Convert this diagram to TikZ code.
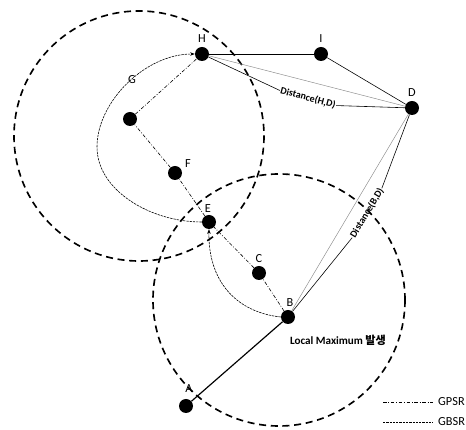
\documentclass[tikz,border=0pt]{standalone}
\usepackage{fontspec}
\setmainfont{Carlito}
\newfontfamily\krfont{Noto Sans CJK KR}
\usetikzlibrary{arrows.meta}
\begin{document}
\begin{tikzpicture}[x=0.03cm, y=-0.03cm,
  dot/.style={circle, fill=black, inner sep=0pt, minimum size=0.42cm},
  lbl/.style={font=\fontsize{10.5}{12}\selectfont, inner sep=0pt},
  dist/.style={font=\bfseries\fontsize{8.5}{10}\selectfont, inner sep=0.5pt},
  txrange/.style={line width=1.4pt, dash pattern=on 6pt off 4pt},
  gpsr/.style={line width=0.5pt, dash pattern=on 3pt off 1.5pt on 0.7pt off 1.5pt},
  gbsr/.style={line width=0.5pt, dash pattern=on 2pt off 0.8pt},
  hop/.style={line width=0.5pt}]
\useasboundingbox (0,0) rectangle (466,430);

\def\legx{383};
\def\legxx{433};
\def\ya{402};
\def\yb{422};

% ranges
\draw[txrange] (139,136) circle (125);
\draw[txrange] (279,300) circle (126);

% nodes
\node[dot] (H) at (202,54) {};
\node[dot] (I) at (321,54) {};
\node[dot] (D) at (412,108) {};
\node[dot] (G) at (130,119) {};
\node[dot] (F) at (175,173) {};
\node[dot] (E) at (209,222) {};
\node[dot] (C) at (259,273) {};
\node[dot] (B) at (288,317) {};
\node[dot] (A) at (186,406) {};

\node[lbl] (Hl) at (202,39) {H};
\node[lbl] (Il) at (321,39) {I};
\node[lbl] (Dl) at (412,93) {D};
\node[lbl] (Gl) at (132,80) {G};
\node[lbl] (Fl) at (188,164) {F};
\node[lbl] (El) at (208,209) {E};
\node[lbl] (Cl) at (259,259) {C};
\node[lbl] (Bl) at (290,303) {B};
\node[lbl] (Al) at (189,389) {A};

% GPSR
\draw[gpsr] (B) -- (C) -- (E) -- (F) -- (G) -- (H);

% GBSR
\draw[gbsr, -{Stealth[length=4pt, width=3pt]}] (B.west) .. controls (235,312) and (208,280) .. (E.south);
\draw[gbsr] (E.west) .. controls (150,222) and (97,190) .. (97,147);
\draw[gbsr, -{Stealth[length=4pt, width=3pt]}] (97,147) .. controls (97,102) and (145,54) .. (H.west);

% hops and distances
\draw[line width=1pt] (A) -- (B);
\draw[hop] (H) -- (I);
\draw[hop] (I) -- (D);
\draw[line width=0.4pt, black!45] (H) -- (D);
\draw[line width=0.4pt, black!45] (B) -- (D);

\node[dist, rotate=-15] (hd) at (308,98) {Distance(H,D)};
\draw[hop] (H) -- (hd.west);
\draw[hop] (hd.east) -- (D);

\node[dist, rotate=59] (bd) at (367,213) {Distance(B,D)};
\draw[hop] (B) -- (bd.west);
\draw[hop] (bd.east) -- (D);

\node[font=\bfseries\fontsize{9.5}{11}\selectfont, inner sep=0pt] (lm) at (338,340) {Local Maximum {\krfont\bfseries 발생}};

% legend
\coordinate (g1) at (\legx,\ya);
\coordinate (g2) at (\legxx,\ya);
\coordinate (b1) at (\legx,\yb);
\coordinate (b2) at (\legxx,\yb);
\draw[gpsr] (g1) -- (g2);
\draw[gbsr] (b1) -- (b2);
\node[lbl, right, inner sep=0pt] (gl) at (438,\ya) {GPSR};
\node[lbl, right, inner sep=0pt] (bl) at (438,\yb) {GBSR};

\end{tikzpicture}
\end{document}
